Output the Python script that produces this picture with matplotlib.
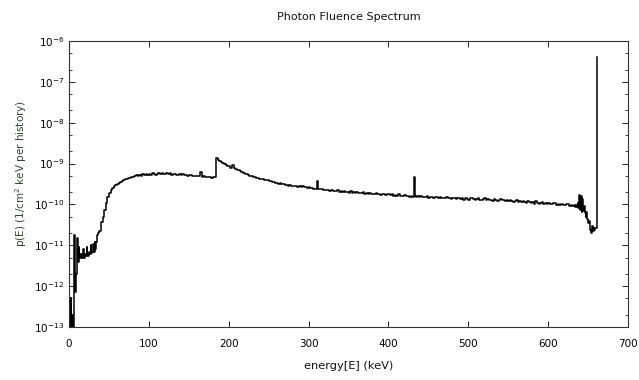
import matplotlib
matplotlib.use("Agg")
import matplotlib.pyplot as plt
from matplotlib.ticker import LogLocator, LogFormatterSciNotation, NullFormatter

# Bin left edges (keV): 1 keV bins at low energy and near the photopeak, 2 keV elsewhere
energy_low = list(range(0, 37))            # 0 .. 36
energy_mid = list(range(38, 432, 2))       # 38 .. 430
energy_spike = [432, 433]
energy_high = list(range(434, 634, 2))     # 434 .. 632
energy_tail = list(range(634, 660))        # 634 .. 659
energy_peak = [661]

# Fluence values in units of 1e-10 (1/cm^2 keV per history)
flu_low = [
    0.005, 0.0001, 0.005, 0.0001, 0.002, 0.0001, 0.18, 0.15, 0.007, 0.02,
    0.15, 0.04, 0.09, 0.06, 0.05, 0.06, 0.05, 0.055, 0.08, 0.05,
    0.06, 0.055, 0.09, 0.06, 0.055, 0.07, 0.06, 0.1, 0.065, 0.07,
    0.11, 0.07, 0.12, 0.08, 0.12, 0.18, 0.2,
]
flu_mid = [
    0.22, 0.38, 0.5, 0.72, 1.07, 1.55, 1.95, 2.2, 2.5, 2.8,
    3.0, 3.25, 3.4, 3.6, 3.8, 4.0, 4.2, 4.3, 4.5, 4.5,
    4.8, 4.7, 5.0, 5.3, 5.0, 5.2, 4.9, 5.6, 5.3, 5.7,
    5.4, 5.5, 5.3, 5.8, 5.5, 5.4, 5.7, 6.0, 5.6, 5.8,
    5.5, 5.6, 5.8, 5.7, 5.9, 5.4, 5.6, 5.7, 5.4, 5.3,
    5.5, 5.3, 5.5, 5.2, 5.3, 5.0, 5.2, 5.3, 5.0, 5.1,
    4.9, 5.0, 5.1, 6.2, 4.6, 4.9, 4.6, 4.8, 4.6, 4.7,
    4.5, 4.7, 4.6, 13.5, 12.5, 11.5, 11.0, 10.5, 9.8, 9.3,
    8.8, 8.5, 8.0, 9.0, 7.6, 7.3, 7.0, 6.8, 6.4, 6.1,
    5.9, 5.7, 5.5, 5.3, 5.1, 5.0, 4.8, 4.8, 4.5, 4.5,
    4.3, 4.3, 4.1, 4.05, 3.9, 3.95, 3.75, 3.75, 3.55, 3.5,
    3.4, 3.4, 3.25, 3.3, 3.1, 3.2, 3.05, 3.05, 2.9, 3.0,
    2.85, 2.9, 2.8, 2.85, 2.7, 2.75, 2.65, 2.8, 2.6, 2.65,
    2.55, 2.6, 2.5, 2.55, 2.45, 2.45, 3.8, 2.4, 2.35, 2.35,
    2.25, 2.3, 2.2, 2.25, 2.15, 2.3, 2.15, 2.1, 2.15, 2.2,
    2.05, 2.1, 2.0, 2.15, 2.0, 2.05, 1.95, 2.1, 1.95, 2.0,
    1.9, 2.05, 1.95, 1.9, 1.95, 2.0, 1.85, 1.9, 1.8, 1.95,
    1.85, 1.8, 1.85, 1.9, 1.75, 1.8, 1.7, 1.85, 1.75, 1.7,
    1.75, 1.8, 1.7, 1.75, 1.65, 1.7, 1.6, 1.75, 1.65, 1.6,
    1.65, 1.7, 1.6, 1.65, 1.55, 1.6, 1.5,
]
flu_spike = [4.6, 1.6]
flu_high = [
    1.5, 1.6, 1.5, 1.65, 1.55, 1.5, 1.55, 1.6, 1.45, 1.55,
    1.5, 1.45, 1.5, 1.55, 1.45, 1.5, 1.4, 1.45, 1.4, 1.5,
    1.4, 1.45, 1.35, 1.45, 1.4, 1.35, 1.4, 1.45, 1.35, 1.4,
    1.3, 1.42, 1.35, 1.3, 1.4, 1.45, 1.35, 1.3, 1.38, 1.4,
    1.3, 1.28, 1.35, 1.4, 1.3, 1.35, 1.25, 1.3, 1.22, 1.35,
    1.25, 1.2, 1.3, 1.35, 1.25, 1.3, 1.2, 1.25, 1.18, 1.3,
    1.2, 1.15, 1.22, 1.25, 1.15, 1.18, 1.12, 1.22, 1.15, 1.1,
    1.18, 1.15, 1.1, 1.12, 1.05, 1.18, 1.1, 1.05, 1.1, 1.12,
    1.03, 1.08, 1.0, 1.1, 1.03, 1.0, 1.06, 1.08, 0.98, 1.02,
    0.95, 1.05, 0.98, 0.95, 1.0, 1.02, 0.92, 0.95, 0.9, 0.97,
]
flu_tail = [
    0.88, 0.95, 0.85, 1.1, 0.82, 1.7, 0.75, 1.6, 0.65, 1.35,
    0.7, 0.9, 0.63, 0.5, 0.65, 0.45, 0.35, 0.4, 0.3, 0.24,
    0.2, 0.3, 0.22, 0.26, 0.24, 0.26,
]
flu_peak = [4000.0]

x_ticks = [0, 100, 200, 300, 400, 500, 600, 700]
title = "Photon Fluence Spectrum"
xlabel = "energy[E] (keV)"
ylabel = r"p(E) (1/cm$^2$ keV per history)"

energy = energy_low + energy_mid + energy_spike + energy_high + energy_tail + energy_peak
fluence = [v * 1e-10 for v in flu_low + flu_mid + flu_spike + flu_high + flu_tail + flu_peak]
assert len(energy) == len(fluence), (len(energy), len(fluence))

plt.rcParams['font.family'] = ['DejaVu Sans']
plt.rcParams['mathtext.fontset'] = 'dejavusans'

fig = plt.figure(figsize=(6.39, 3.80), dpi=100)
ax = fig.add_axes([69/639, 53/380, 559/639, 286/380])

ax.step(energy, fluence, where='post', color='black', lw=1.1)

ax.set_yscale('log')
ax.set_xlim(0, 700)
ax.set_ylim(1e-13, 1e-6)
ax.set_xticks(x_ticks)
ax.yaxis.set_major_locator(LogLocator(base=10, numticks=20))
ax.yaxis.set_major_formatter(LogFormatterSciNotation())
ax.yaxis.set_minor_locator(LogLocator(base=10, subs=(2.0, 5.0), numticks=20))
ax.yaxis.set_minor_formatter(NullFormatter())

ax.tick_params(which='both', direction='in', top=True, right=True, labelsize=7.5,
               colors='#222222', labelcolor='black')
ax.tick_params(which='major', length=4.3, width=0.7)
ax.tick_params(which='minor', length=2.2, width=0.6)
ax.tick_params(axis='x', which='major', pad=8.5)
for s in ax.spines.values():
    s.set_linewidth(0.8)
    s.set_color('#333333')

fig.text(348.5/639, 1 - 17/380, title, ha='center', va='center', fontsize=8, color='#111111')
fig.text(348.5/639, 1 - 366/380, xlabel, ha='center', va='center', fontsize=8.2, color='#111111')
fig.text(21/639, 1 - 174/380, ylabel, ha='center', va='center', rotation=90, fontsize=7.5, color='#2a4a2a')

fig.savefig('out.png', dpi=100)
